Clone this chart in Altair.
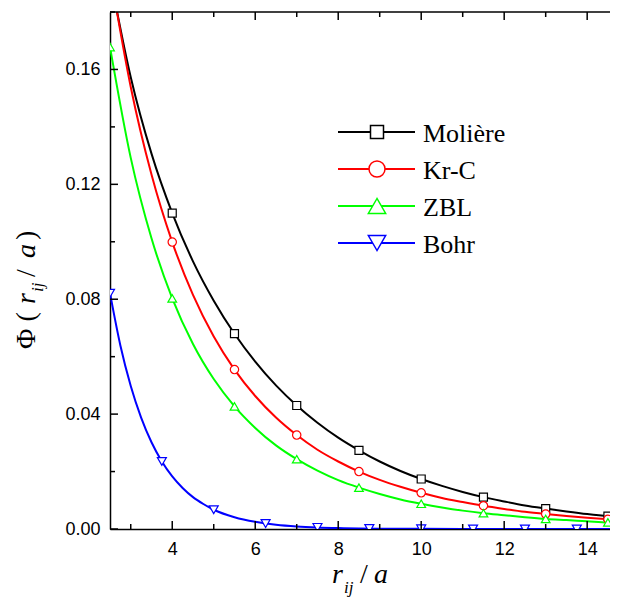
import altair as alt
import pandas as pd

# ---------------- data ----------------
series = ["Molière", "Kr-C", "ZBL", "Bohr"]

x_line = [2.5, 3.0, 3.5, 4.0, 4.5, 5.0, 5.5, 6.0, 6.5, 7.0, 7.5, 8.0, 8.5,
          9.0, 9.5, 10.0, 10.5, 11.0, 11.5, 12.0, 12.5, 13.0, 13.5, 14.0, 14.5, 14.72]
moliere = [0.1927, 0.1573, 0.1307, 0.1100, 0.0932, 0.0795, 0.0680, 0.0583, 0.0500,
           0.0430, 0.0370, 0.0318, 0.0274, 0.0235, 0.0202, 0.0174, 0.0150, 0.0129,
           0.0111, 0.0096, 0.0082, 0.0071, 0.0061, 0.0052, 0.0045, 0.0043]
krc = [0.1942, 0.1539, 0.1234, 0.0999, 0.0815, 0.0670, 0.0555, 0.0463, 0.0388,
       0.0327, 0.0276, 0.0235, 0.0200, 0.0171, 0.0147, 0.0126, 0.0108, 0.0094,
       0.0081, 0.0070, 0.0060, 0.0052, 0.0045, 0.0039, 0.0034, 0.0032]
zbl = [0.1678, 0.1292, 0.1012, 0.0803, 0.0644, 0.0522, 0.0427, 0.0352, 0.0291,
       0.0243, 0.0203, 0.0170, 0.0144, 0.0122, 0.0103, 0.0088, 0.0075, 0.0064,
       0.0055, 0.0048, 0.0041, 0.0035, 0.0031, 0.0027, 0.0023, 0.0022]
x_bohr = [2.5, 2.75, 3.0, 3.25, 3.5, 3.75, 4.0, 4.25, 4.5, 4.75, 5.0, 5.5, 6.0,
          6.5, 7.0, 7.5, 8.0, 8.5, 9.0, 9.5, 10.0, 11.0, 12.0, 13.0, 14.0, 14.72]
bohr = [0.0821, 0.0639, 0.0498, 0.0388, 0.0302, 0.0235, 0.0183, 0.0143, 0.0111,
        0.0087, 0.0067, 0.0041, 0.0025, 0.0015, 0.0009, 0.00055, 0.00034, 0.0002,
        0.00012, 0.00007, 0.00005, 0.00002, 0.00001, 0.0, 0.0, 0.0]

x_mark = [2.5, 4.0, 5.5, 7.0, 8.5, 10.0, 11.5, 13.0, 14.5]
moliere_m = [0.1927, 0.1100, 0.0680, 0.0430, 0.0274, 0.0174, 0.0111, 0.0071, 0.0045]
krc_m = [0.1942, 0.0999, 0.0555, 0.0327, 0.0200, 0.0126, 0.0081, 0.0052, 0.0034]
zbl_m = [0.1678, 0.0803, 0.0427, 0.0243, 0.0144, 0.0088, 0.0055, 0.0035, 0.0023]
x_mark_bohr = [2.5, 3.75, 5.0, 6.25, 7.5, 8.75, 10.0, 11.25, 12.5, 13.75]
bohr_m = [0.0821, 0.0235, 0.0067, 0.0019, 0.00055, 0.00016, 0.00005, 0.00001, 0.0, 0.0]

x_major = [4, 6, 8, 10, 12, 14]
x_minor = [3, 5, 7, 9, 11, 13]
y_major = [0.0, 0.04, 0.08, 0.12, 0.16]
y_minor = [0.02, 0.06, 0.10, 0.14, 0.18]

# ---------------- styles ----------------
colors = ["#000000", "#ff0000", "#00ff00", "#0000ff"]
shapes = ["square", "circle", "triangle-up", "triangle-down"]
sizes = [64, 81, 100, 100]
leg_sizes = [169, 256, 300, 300]
W, H = 500, 517
SERIF = "Liberation Serif"
SANS = "Liberation Sans"

line_rows = []
for name, xs, ys in [(series[0], x_line, moliere), (series[1], x_line, krc),
                     (series[2], x_line, zbl), (series[3], x_bohr, bohr)]:
    for xv, yv in zip(xs, ys):
        line_rows.append({"series": name, "x": xv, "y": yv})
df_lines = pd.DataFrame(line_rows)

mark_rows = []
for name, xs, ys in [(series[0], x_mark, moliere_m), (series[1], x_mark, krc_m),
                     (series[2], x_mark, zbl_m), (series[3], x_mark_bohr, bohr_m)]:
    for xv, yv in zip(xs, ys):
        mark_rows.append({"series": name, "x": xv, "y": yv})
df_marks = pd.DataFrame(mark_rows)

xs_ = alt.Scale(domain=[2.5, 14.55], nice=False, zero=False)
ys_ = alt.Scale(domain=[0, 0.18], nice=False, zero=False)
x_axis = alt.Axis(values=x_major, format="d", title=None, ticks=False, grid=False,
                  labelPadding=11)
y_axis = alt.Axis(values=y_major, format=".2f", title=None, ticks=False, grid=False,
                  labelPadding=10)
col_scale = alt.Scale(domain=series, range=colors)

lines = alt.Chart(df_lines).mark_line(strokeWidth=2, clip=True, interpolate="monotone").encode(
    x=alt.X("x:Q", scale=xs_, axis=x_axis),
    y=alt.Y("y:Q", scale=ys_, axis=y_axis),
    color=alt.Color("series:N", scale=col_scale, legend=None),
    detail="series:N",
)

points = alt.Chart(df_marks).mark_point(opacity=1, strokeWidth=1.2, clip=True).encode(
    x=alt.X("x:Q", scale=xs_, axis=x_axis),
    y=alt.Y("y:Q", scale=ys_, axis=y_axis),
    stroke=alt.Stroke("series:N", scale=col_scale, legend=None),
    shape=alt.Shape("series:N", scale=alt.Scale(domain=series, range=shapes), legend=None),
    size=alt.Size("series:N", scale=alt.Scale(domain=series, range=sizes), legend=None),
    fill=alt.value("white"),
)

layers = [lines, points]

# inward ticks
def xticks(vals, length):
    d = pd.DataFrame({"t": vals})
    bottom = alt.Chart(d).mark_rule(color="black", strokeWidth=1.5).encode(
        x=alt.X("t:Q", scale=xs_, axis=x_axis), y=alt.value(H), y2=alt.value(H - length))
    top = alt.Chart(d).mark_rule(color="black", strokeWidth=1.5).encode(
        x=alt.X("t:Q", scale=xs_, axis=x_axis), y=alt.value(0), y2=alt.value(length))
    return [bottom, top]

def yticks(vals, length):
    d = pd.DataFrame({"t": vals})
    return [alt.Chart(d).mark_rule(color="black", strokeWidth=1.5).encode(
        y=alt.Y("t:Q", scale=ys_, axis=y_axis), x=alt.value(0), x2=alt.value(length))]

layers += xticks(x_major, 8) + xticks(x_minor, 5) + yticks(y_major, 8) + yticks(y_minor, 5)

one = pd.DataFrame({"k": [0]})
# top frame line
layers.append(alt.Chart(one).mark_rule(color="black", strokeWidth=1.5).encode(
    x=alt.value(0), x2=alt.value(W), y=alt.value(0)))

# legend (manual, line + symbol)
for i, name in enumerate(series):
    ly = 120 + 37 * i
    layers.append(alt.Chart(one).mark_rule(color=colors[i], strokeWidth=2).encode(
        x=alt.value(228), x2=alt.value(305), y=alt.value(ly)))
    layers.append(alt.Chart(one).mark_point(shape=shapes[i], size=leg_sizes[i], stroke=colors[i],
                                            fill="white", opacity=1, strokeWidth=1.5).encode(
        x=alt.value(267), y=alt.value(ly)))
    layers.append(alt.Chart(one).mark_text(text=name, align="left", baseline="alphabetic",
                                           font=SERIF, fontSize=26, color="black").encode(
        x=alt.value(313), y=alt.value(ly + 10)))

# axis titles built from pieces (italic + subscript)
def txt(s, x, y, size=28, style="normal", angle=0):
    kw = dict(text=s, align="left", baseline="alphabetic", font=SERIF, fontSize=size,
              fontStyle=style, color="black")
    if angle:
        kw["angle"] = angle
    return alt.Chart(one).mark_text(**kw).encode(x=alt.value(x), y=alt.value(y))

# x title: r_ij / a
layers += [
    txt("r", 222, 571, style="italic"),
    txt("ij", 234, 581, size=17, style="italic"),
    txt("/", 250, 571),
    txt("a", 264, 571, style="italic"),
]
# y title: Φ ( r_ij / a )   (rotated, reading upwards)
bx = -75
layers += [
    txt("Φ (", bx, 337, angle=270),
    txt("r", bx, 292, style="italic", angle=270),
    txt("ij", bx + 8, 280, size=17, style="italic", angle=270),
    txt("/", bx, 265, angle=270),
    txt("a", bx, 246, style="italic", angle=270),
    txt(")", bx, 228, angle=270),
]

chart = alt.layer(*layers).properties(
    width=W, height=H,
    autosize=alt.AutoSizeParams(type="none"),
    padding={"left": 102, "top": 4, "right": 0, "bottom": 72},
).configure_view(stroke=None).configure_axis(
    labelFont=SANS, labelFontSize=18, labelColor="black",
    domainColor="black", domainWidth=1.5,
)

chart.save("out.html", embed_options={"renderer": "svg", "actions": False})
